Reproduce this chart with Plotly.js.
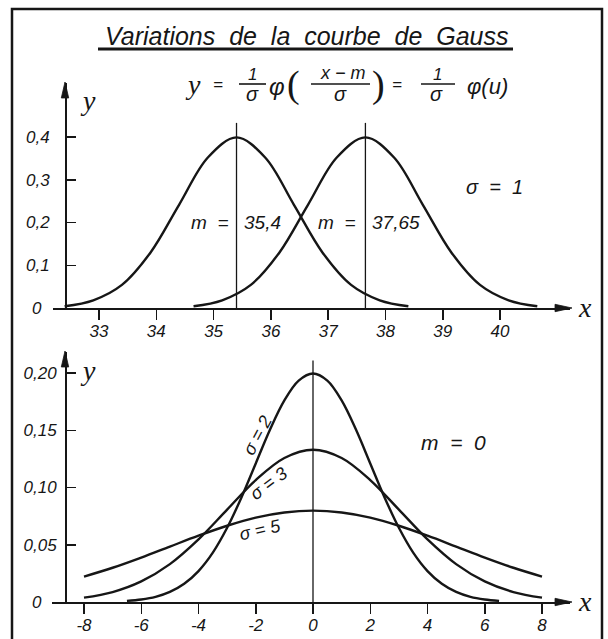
<!DOCTYPE html>
<html>
<head>
<meta charset="utf-8">
<script src="https://cdn.plot.ly/plotly-3.0.1.min.js"></script>
<style>
  html, body { margin: 0; padding: 0; background: #ffffff; }
  #chart { width: 608px; height: 639px; }
</style>
</head>
<body>
<div id="chart"></div>
<script>
// ---- data: upper panel, sigma = 1, two means ----
const meanA = 35.4;
const meanB = 37.65;
const curveA_x = [32.4, 32.9, 33.4, 33.9, 34.4, 34.9, 35.4, 35.9, 36.4, 36.9, 37.4, 37.9, 38.4];
const curveA_y = [0.004, 0.018, 0.054, 0.130, 0.242, 0.352, 0.399, 0.352, 0.242, 0.130, 0.054, 0.018, 0.004];
const curveB_x = [34.65, 35.15, 35.65, 36.15, 36.65, 37.15, 37.65, 38.15, 38.65, 39.15, 39.65, 40.15, 40.65];
const curveB_y = [0.004, 0.018, 0.054, 0.130, 0.242, 0.352, 0.399, 0.352, 0.242, 0.130, 0.054, 0.018, 0.004];
const meanLineTop = 0.433;

const topXTicks = [33, 34, 35, 36, 37, 38, 39, 40];
const topXLabels = ['33', '34', '35', '36', '37', '38', '39', '40'];
const topYTicks = [0, 0.1, 0.2, 0.3, 0.4];
const topYLabels = ['0', '0,1', '0,2', '0,3', '0,4'];

// ---- data: lower panel, m = 0, three spreads ----
const sigma2_x = [-6.5, -6, -5.5, -5, -4.5, -4, -3.5, -3, -2.5, -2, -1.5, -1, -0.5, 0,
                  0.5, 1, 1.5, 2, 2.5, 3, 3.5, 4, 4.5, 5, 5.5, 6, 6.5];
const sigma2_y = [0.0010, 0.0022, 0.0045, 0.0088, 0.0159, 0.0270, 0.0431, 0.0648, 0.0913, 0.1210, 0.1506, 0.1760, 0.1933, 0.1995,
                  0.1933, 0.1760, 0.1506, 0.1210, 0.0913, 0.0648, 0.0431, 0.0270, 0.0159, 0.0088, 0.0045, 0.0022, 0.0010];
const sigma3_x = [-8, -7, -6, -5, -4, -3, -2, -1, 0, 1, 2, 3, 4, 5, 6, 7, 8];
const sigma3_y = [0.0038, 0.0087, 0.0180, 0.0331, 0.0547, 0.0807, 0.1065, 0.1258, 0.1330,
                  0.1258, 0.1065, 0.0807, 0.0547, 0.0331, 0.0180, 0.0087, 0.0038];
const sigma5_x = [-8, -7, -6, -5, -4, -3, -2, -1, 0, 1, 2, 3, 4, 5, 6, 7, 8];
const sigma5_y = [0.0222, 0.0299, 0.0388, 0.0484, 0.0579, 0.0666, 0.0737, 0.0782, 0.0798,
                  0.0782, 0.0737, 0.0666, 0.0579, 0.0484, 0.0388, 0.0299, 0.0222];
const meanZero = 0;
const meanLineBottom = 0.211;

const botXTicks = [-8, -6, -4, -2, 0, 2, 4, 6, 8];
const botXLabels = ['-8', '-6', '-4', '-2', '0', '2', '4', '6', '8'];
const botYTicks = [0, 0.05, 0.10, 0.15, 0.20];
const botYLabels = ['0', '0,05', '0,10', '0,15', '0,20'];

// ---- page geometry helpers (pixels -> paper fractions) ----
const W = 608, H = 639;
const px = p => p / W;
const py = p => (H - p) / H;
const INK = '#161616';
const SANS = '"Liberation Sans", Arial, sans-serif';
const SERIF = '"Liberation Serif", "Times New Roman", serif';

function curve(x, y, xa, ya) {
  return { x: x, y: y, xaxis: xa, yaxis: ya, type: 'scatter', mode: 'lines',
           line: { color: INK, width: 2.4, shape: 'spline', smoothing: 1 },
           hoverinfo: 'skip' };
}
function meanLine(m, top, xa, ya) {
  return { x: [m, m], y: [0, top], xaxis: xa, yaxis: ya, type: 'scatter', mode: 'lines',
           line: { color: INK, width: 1.3 }, hoverinfo: 'skip' };
}

const traces = [
  curve(curveA_x, curveA_y, 'x', 'y'),
  curve(curveB_x, curveB_y, 'x', 'y'),
  meanLine(meanA, meanLineTop, 'x', 'y'),
  meanLine(meanB, meanLineTop, 'x', 'y'),
  curve(sigma2_x, sigma2_y, 'x2', 'y2'),
  curve(sigma3_x, sigma3_y, 'x2', 'y2'),
  curve(sigma5_x, sigma5_y, 'x2', 'y2'),
  meanLine(meanZero, meanLineBottom, 'x2', 'y2')
];

const tickFont = { family: SANS, size: 17, color: INK, style: 'italic' };

function axisX(domainPx, range, anchor, vals, labels) {
  return {
    domain: [px(domainPx[0]), px(domainPx[1])], range: range, anchor: anchor,
    showline: true, linecolor: INK, linewidth: 1.8,
    ticks: 'outside', ticklen: 10, tickwidth: 1.5, tickcolor: INK,
    tickvals: vals, ticktext: labels, tickfont: tickFont,
    ticklabelstandoff: -3,
    showgrid: false, zeroline: false, fixedrange: true
  };
}
// the zero of each vertical scale is lettered separately, further left
function axisY(domainPx, range, vals, labels, standoff) {
  return {
    domain: [py(domainPx[0]), py(domainPx[1])], range: range,
    anchor: 'free', position: px(65),
    showline: true, linecolor: INK, linewidth: 1.8,
    ticks: 'inside', ticklen: 9, tickwidth: 1.5, tickcolor: INK,
    tickvals: vals, ticktext: labels.map((t, i) => vals[i] === 0 ? '' : t), tickfont: tickFont,
    ticklabelstandoff: standoff,
    showgrid: false, zeroline: false, fixedrange: true
  };
}
function zeroLabel(text, ya) {
  return {
    text: text, xref: 'paper', yref: ya, x: px(65), y: 0,
    xanchor: 'right', yanchor: 'middle', xshift: -21, showarrow: false, font: tickFont
  };
}

// text placed by pixel centre
function label(text, x, y, size, extra) {
  return Object.assign({
    text: text, xref: 'paper', yref: 'paper', x: px(x), y: py(y),
    xanchor: 'center', yanchor: 'middle', showarrow: false,
    font: { family: SANS, size: size, color: INK, style: 'italic' }
  }, extra || {});
}
function serifLabel(text, x, y, size, italic) {
  return label(text, x, y, size, { font: { family: SERIF, size: size, color: INK, style: italic ? 'italic' : 'normal' } });
}
// text tied to a mean value on a data axis
function meanLabel(text, m, xa, yval, ya, side, shift) {
  return {
    text: text, xref: xa, yref: ya, x: m, y: yval,
    xanchor: side, yanchor: 'middle', xshift: shift, showarrow: false,
    font: { family: SANS, size: 19, color: INK, style: 'italic' }
  };
}

const annotations = [
  // heading
  label('Variations\u00a0\u00a0de\u00a0\u00a0la\u00a0\u00a0courbe\u00a0\u00a0de\u00a0\u00a0Gauss', 306, 36, 25),
  // formula  y = 1/σ φ((x-m)/σ) = 1/σ φ(u)
  serifLabel('y', 193, 84, 28, true),
  label('=', 218, 84, 17),
  label('1', 252, 74, 17),
  label('σ', 252, 94, 20),
  label('φ', 277, 86, 24),
  serifLabel('(', 293, 84, 38, false),
  label('x\u00a0\u2212\u00a0m', 343, 73, 18),
  label('σ', 340, 94, 20),
  serifLabel(')', 378, 84, 38, false),
  label('=', 397, 84, 17),
  label('1', 437, 74, 17),
  label('σ', 436, 94, 20),
  label('φ(u)', 487, 86, 22),
  // axis letters
  serifLabel('y', 88, 100, 28, true),
  serifLabel('x', 585, 307, 28, true),
  serifLabel('y', 88, 371, 28, true),
  serifLabel('x', 585, 601, 28, true),
  // zero marks of the vertical scales
  zeroLabel(topYLabels[topYTicks.indexOf(0)], 'y'),
  zeroLabel(botYLabels[botYTicks.indexOf(0)], 'y2'),
  // upper panel notes
  label('σ\u00a0\u00a0=\u00a0\u00a01', 494, 187, 20),
  meanLabel('m\u00a0\u00a0=', meanA, 'x', 0.199, 'y', 'right', -7),
  meanLabel('35,4', meanA, 'x', 0.199, 'y', 'left', 5),
  meanLabel('m\u00a0\u00a0=', meanB, 'x', 0.199, 'y', 'right', -8),
  meanLabel('37,65', meanB, 'x', 0.199, 'y', 'left', 5),
  // lower panel notes
  label('m\u00a0\u00a0=\u00a0\u00a00', 453, 442, 21),
  label('σ\u00a0=\u00a02', 257, 436, 18, { textangle: -62 }),
  label('σ\u00a0=\u00a03', 268, 484, 18, { textangle: -37 }),
  label('σ\u00a0=\u00a05', 260, 530, 18, { textangle: -13 })
];

// arrowhead as a closed path, pixel coordinates -> paper
function head(pts) {
  const d = pts.map((p, i) => (i ? 'L' : 'M') + px(p[0]).toFixed(5) + ',' + py(p[1]).toFixed(5)).join(' ') + ' Z';
  return { type: 'path', xref: 'paper', yref: 'paper', path: d,
           fillcolor: INK, line: { color: INK, width: 0.8 } };
}
function hline(x0, x1, y, w) {
  return { type: 'line', xref: 'paper', yref: 'paper', x0: px(x0), x1: px(x1), y0: py(y), y1: py(y),
           line: { color: INK, width: w } };
}

const shapes = [
  // page frame
  { type: 'rect', xref: 'paper', yref: 'paper', x0: px(12), x1: px(602), y0: -0.05, y1: py(9),
    line: { color: INK, width: 2.5 } },
  // heading underline
  hline(98, 513, 49, 3),
  // fraction bars
  hline(239, 266, 84, 1.6),
  hline(311, 370, 84, 1.6),
  hline(421, 455, 84, 1.6),
  // axis arrowheads
  head([[65, 82], [61.3, 98], [68.7, 98]]),
  head([[572, 308], [555, 304.3], [555, 311.7]]),
  head([[65, 351], [61.3, 367], [68.7, 367]]),
  head([[572, 602], [555, 598.3], [555, 605.7]])
];

const layout = {
  width: W, height: H,
  margin: { l: 0, r: 0, t: 0, b: 0 },
  paper_bgcolor: '#ffffff', plot_bgcolor: 'rgba(0,0,0,0)',
  showlegend: false,
  xaxis: axisX([53, 570], [32.197, 41.221], 'y', topXTicks, topXLabels),
  yaxis: axisY([308, 83], [0, 0.5263], topYTicks, topYLabels, 12),
  xaxis2: axisX([52, 570], [-9.118, 8.978], 'y2', botXTicks, botXLabels),
  yaxis2: axisY([602, 352], [0, 0.21834], botYTicks, botYLabels, 5),
  annotations: annotations,
  shapes: shapes
};

Plotly.newPlot('chart', traces, layout, { staticPlot: true, displayModeBar: false });
</script>
</body>
</html>
